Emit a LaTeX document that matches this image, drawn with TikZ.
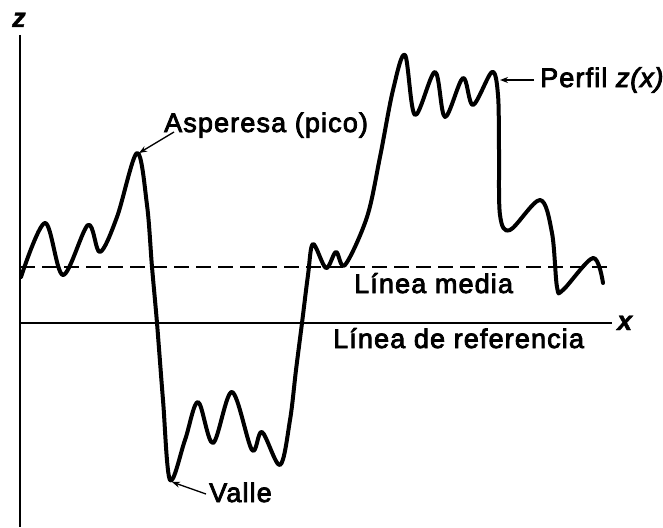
\documentclass[tikz,border=0pt]{standalone}
\usepackage{fontspec}
\setmainfont{Liberation Sans}
\newfontfamily\labfont[LetterSpace=4.2,FakeBold=3]{Liberation Sans}
\newfontfamily\labitfont[LetterSpace=3,FakeBold=3.5]{Liberation Sans Italic}
\newfontfamily\axfont[FakeBold=1.5]{Liberation Sans Bold Italic}
\usetikzlibrary{arrows.meta}
\begin{document}
\begin{tikzpicture}[x=1pt,y=-1pt,
  lab/.style={inner sep=0pt,font=\labfont\fontsize{27}{30}\selectfont},
  axislab/.style={inner sep=0pt,font=\axfont\fontsize{27}{30}\selectfont},
  axis/.style={line width=2pt},
  meanline/.style={line width=1.8pt,dash pattern=on 15pt off 7pt},
  profile/.style={line width=4pt,line join=round,line cap=round},
  pointer/.style={line width=1.3pt,-{Stealth[length=8pt,width=6pt]}}]
\useasboundingbox (0,0) rectangle (663,527);
% axes
\coordinate (zt) at (20,35);
\coordinate (zb) at (20,527);
\coordinate (xl) at (20,323);
\coordinate (xr) at (612,323);
\draw[axis] (zt) -- (zb);
\draw[axis] (xl) -- (xr);
\coordinate (ml) at (20,267);
\coordinate (mr) at (612,267);
\draw[meanline] (ml) -- (mr);
\node[axislab,anchor=base west] (zlab) at (12,27) {z};
\node[axislab,anchor=base west] (xlab) at (617,330) {x};
% profile
\draw[profile] plot[smooth,tension=0.55] coordinates {
 (21,277) (45,223) (63,275) (88,225) (100,252) (117,217) (137,153)
 (147,205) (152,267) (157,323) (163,400) (170,480)
 (185,440) (198,402) (213,443) (232,392) (252,450) (262,432) (280,465)
 (290,420) (296,370) (302,323) (308,275) (313,244) (326,268) (336,252) (345,265)
 (367,217) (380,157) (393,90) (405,55) (415,115) (435,72) (445,117) (463,78)
 (473,105) (492,72) (498,95) (499,150) (500,215) (510,230) (540,200) (552,233)
 (557,287) (563,290) (593,258) (603,283)};
\coordinate (peak) at (139,153);
\coordinate (valley) at (172,482);
\coordinate (prof) at (500,80);
% labels
\node[lab,anchor=base west] (asp) at (164,132) {Asperesa (pico)};
\node[lab,anchor=base west] (perf) at (540,87) {Perfil {\labitfont z(x)}};
\node[lab,anchor=base west] (valle) at (209,502) {Valle};
\node[lab,anchor=base west] (media) at (354,293) {Línea media};
\node[lab,anchor=base west] (ref) at (333,348) {Línea de referencia};
\coordinate (aspS) at (174,132);
\coordinate (perfS) at (534,80);
\coordinate (valS) at (206,494);
\draw[pointer] (aspS) -- (peak);
\draw[pointer] (perfS) -- (prof);
\draw[pointer] (valS) -- (valley);
\end{tikzpicture}
\end{document}
